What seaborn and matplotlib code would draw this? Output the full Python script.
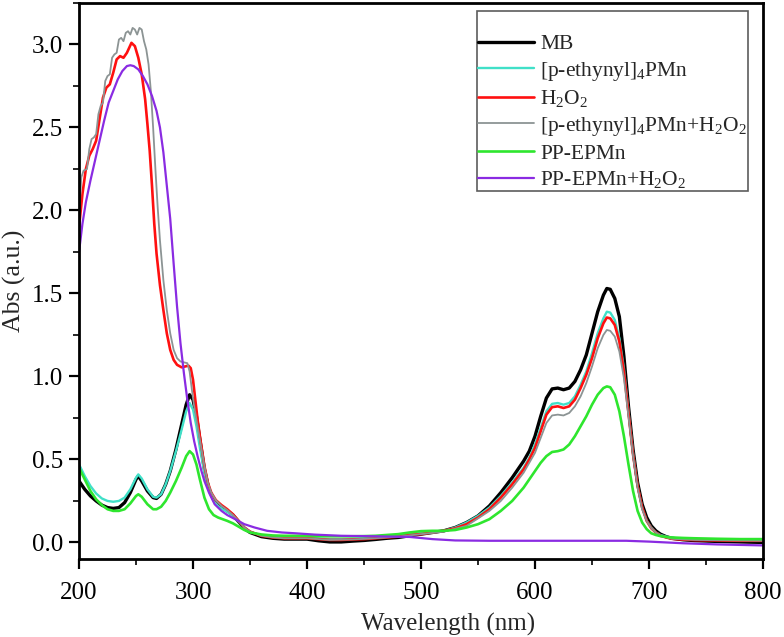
import matplotlib
matplotlib.use("Agg")
import matplotlib.pyplot as plt
import seaborn as sns
import pandas as pd
from matplotlib.ticker import MultipleLocator

# ---------------- data ----------------
labels = ["MB", r"[p-ethynyl]$_4$PMn", r"H$_2$O$_2$",
          r"[p-ethynyl]$_4$PMn+H$_2$O$_2$", "PP-EPMn", r"PP-EPMn+H$_2$O$_2$"]
colors = ["#000000", "#40E0C8", "#FF1010", "#8C9494", "#2EE62E", "#8A2BE2"]

common_wl = [200, 205, 210, 215, 220, 225, 230, 235, 240, 245, 250, 252, 255, 260, 265, 268,
             272, 276, 280, 285, 290, 294, 297, 300, 303, 306, 310, 314, 318, 322, 326, 330,
             335, 340, 345, 350, 360, 370, 380, 390, 400, 410, 420, 430, 440, 450, 460, 470,
             480, 490, 500, 510, 520, 530, 540, 550, 560, 570, 580, 590, 595, 600, 605, 610,
             615, 620, 625, 630, 635, 640, 645, 650, 655, 660, 663, 666, 670, 674, 678, 682,
             686, 690, 694, 698, 702, 706, 710, 715, 720, 730, 740, 760, 780, 800]

mb_abs = [0.37, 0.32, 0.28, 0.25, 0.225, 0.21, 0.205, 0.21, 0.24, 0.30, 0.38, 0.40, 0.37, 0.31,
          0.27, 0.265, 0.29, 0.35, 0.43, 0.56, 0.71, 0.83, 0.89, 0.86, 0.76, 0.62, 0.44, 0.32,
          0.26, 0.23, 0.21, 0.19, 0.165, 0.125, 0.085, 0.06, 0.035, 0.025, 0.02, 0.02, 0.02,
          0.01, 0.003, 0.003, 0.008, 0.012, 0.018, 0.025, 0.03, 0.04, 0.05, 0.06, 0.07, 0.09,
          0.12, 0.16, 0.22, 0.30, 0.39, 0.49, 0.55, 0.64, 0.76, 0.87, 0.925, 0.93, 0.92, 0.93,
          0.97, 1.04, 1.13, 1.26, 1.39, 1.49, 1.53, 1.525, 1.47, 1.36, 1.12, 0.82, 0.56, 0.36,
          0.23, 0.15, 0.10, 0.07, 0.05, 0.035, 0.025, 0.016, 0.011, 0.006, 0.003, 0.0]

pe_abs = [0.47, 0.40, 0.34, 0.295, 0.265, 0.25, 0.245, 0.25, 0.27, 0.32, 0.39, 0.41, 0.385,
          0.32, 0.275, 0.27, 0.29, 0.35, 0.43, 0.55, 0.68, 0.79, 0.84, 0.80, 0.70, 0.57, 0.42,
          0.31, 0.25, 0.22, 0.20, 0.185, 0.16, 0.125, 0.09, 0.065, 0.042, 0.035, 0.03, 0.03,
          0.03, 0.025, 0.02, 0.02, 0.022, 0.025, 0.03, 0.035, 0.04, 0.05, 0.055, 0.06, 0.07,
          0.09, 0.12, 0.16, 0.21, 0.28, 0.36, 0.45, 0.51, 0.59, 0.69, 0.79, 0.835, 0.84, 0.83,
          0.84, 0.88, 0.95, 1.03, 1.14, 1.26, 1.35, 1.39, 1.385, 1.34, 1.23, 1.05, 0.79, 0.54,
          0.34, 0.21, 0.13, 0.09, 0.06, 0.045, 0.035, 0.028, 0.022, 0.02, 0.018, 0.016, 0.015]

h2o2_wl = [200, 203, 206, 209, 212, 215, 218, 221, 224, 227, 230, 233, 236, 239, 242, 246, 249,
           252, 255, 258, 260, 262, 264, 266, 268, 271, 274, 277, 280, 283, 286, 290, 293, 296,
           298, 300, 302, 304, 306, 308, 310, 313, 316, 320, 325, 330, 335, 340, 345, 350, 360,
           370, 380, 390, 400, 410, 420, 430, 440, 450, 460, 470, 480, 490, 500, 510, 520, 530,
           540, 550, 560, 570, 580, 590, 595, 600, 605, 610, 615, 620, 625, 630, 635, 640, 645,
           650, 655, 660, 663, 666, 670, 674, 678, 682, 686, 690, 694, 698, 702, 706, 710, 715,
           720, 730, 740, 760, 780, 800]
h2o2_abs = [1.90, 2.10, 2.25, 2.33, 2.37, 2.42, 2.55, 2.68, 2.74, 2.76, 2.83, 2.91, 2.93, 2.92,
            2.95, 3.01, 2.99, 2.92, 2.82, 2.67, 2.52, 2.36, 2.15, 1.92, 1.74, 1.55, 1.40, 1.26,
            1.16, 1.10, 1.07, 1.055, 1.06, 1.065, 1.05, 0.98, 0.86, 0.74, 0.64, 0.55, 0.46, 0.36,
            0.30, 0.255, 0.225, 0.20, 0.17, 0.13, 0.09, 0.065, 0.04, 0.03, 0.025, 0.025, 0.025,
            0.02, 0.015, 0.015, 0.018, 0.02, 0.025, 0.03, 0.035, 0.045, 0.05, 0.06, 0.07, 0.085,
            0.11, 0.15, 0.20, 0.27, 0.35, 0.44, 0.50, 0.57, 0.67, 0.77, 0.815, 0.82, 0.81, 0.82,
            0.86, 0.93, 1.01, 1.11, 1.23, 1.32, 1.355, 1.35, 1.31, 1.21, 1.03, 0.78, 0.53, 0.34,
            0.21, 0.13, 0.085, 0.06, 0.04, 0.03, 0.022, 0.017, 0.014, 0.012, 0.01, 0.01]

peh_wl = [200, 202, 204, 207, 209, 211, 213, 215, 217, 219, 221, 223, 225, 227, 229, 231, 233,
          235, 237, 239, 241, 243, 245, 247, 249, 251, 253, 255, 257, 259, 261, 263, 265, 267,
          269, 271, 274, 277, 280, 283, 286, 289, 292, 295, 297, 299, 301, 304, 307, 310, 313,
          316, 320, 325, 330, 335, 340, 345, 350, 360, 370, 380, 400, 420, 440, 460, 480, 500,
          520, 540, 560, 570, 580, 590, 595, 600, 605, 610, 615, 620, 625, 630, 635, 640, 645,
          650, 655, 660, 663, 666, 670, 674, 678, 682, 686, 690, 694, 698, 702, 706, 710, 720,
          740, 800]
peh_abs = [1.95, 2.20, 2.24, 2.25, 2.37, 2.43, 2.44, 2.46, 2.58, 2.63, 2.65, 2.78, 2.81, 2.82,
           2.92, 2.94, 2.95, 3.03, 3.04, 3.02, 3.07, 3.08, 3.06, 3.10, 3.09, 3.06, 3.10, 3.09,
           3.02, 2.97, 2.88, 2.72, 2.50, 2.25, 2.02, 1.82, 1.58, 1.40, 1.26, 1.16, 1.11, 1.09,
           1.085, 1.08, 1.03, 0.92, 0.82, 0.70, 0.58, 0.46, 0.36, 0.30, 0.255, 0.22, 0.195,
           0.165, 0.13, 0.09, 0.065, 0.04, 0.03, 0.025, 0.025, 0.015, 0.018, 0.025, 0.035,
           0.05, 0.065, 0.10, 0.19, 0.25, 0.33, 0.42, 0.48, 0.54, 0.63, 0.72, 0.765, 0.77, 0.765,
           0.78, 0.82, 0.88, 0.96, 1.06, 1.17, 1.25, 1.28, 1.275, 1.24, 1.15, 0.99, 0.76, 0.52,
           0.33, 0.20, 0.13, 0.085, 0.06, 0.04, 0.022, 0.015, 0.01]

pp_abs = [0.45, 0.38, 0.31, 0.26, 0.225, 0.20, 0.19, 0.19, 0.20, 0.235, 0.28, 0.29, 0.275, 0.23,
          0.20, 0.20, 0.215, 0.25, 0.30, 0.37, 0.45, 0.52, 0.55, 0.53, 0.47, 0.38, 0.27, 0.20,
          0.165, 0.15, 0.14, 0.13, 0.115, 0.095, 0.075, 0.06, 0.048, 0.042, 0.04, 0.04, 0.04,
          0.038, 0.037, 0.037, 0.037, 0.038, 0.04, 0.045, 0.05, 0.06, 0.068, 0.07, 0.07, 0.075,
          0.09, 0.11, 0.14, 0.19, 0.25, 0.33, 0.38, 0.43, 0.48, 0.52, 0.545, 0.55, 0.56, 0.59,
          0.64, 0.70, 0.76, 0.83, 0.89, 0.93, 0.94, 0.935, 0.89, 0.79, 0.64, 0.47, 0.31, 0.19,
          0.12, 0.08, 0.055, 0.045, 0.038, 0.033, 0.03, 0.027, 0.025, 0.022, 0.02, 0.02]

pph_wl = [200, 203, 206, 210, 214, 218, 222, 226, 230, 234, 238, 242, 245, 248, 252, 256, 260,
          264, 268, 271, 274, 277, 280, 283, 286, 289, 292, 295, 298, 301, 304, 307, 310, 314,
          319, 325, 330, 337, 345, 354, 365, 378, 390, 407, 430, 460, 490, 510, 530, 560, 600,
          650, 680, 700, 730, 760, 800]
pph_abs = [1.75, 1.92, 2.05, 2.18, 2.30, 2.42, 2.54, 2.65, 2.72, 2.79, 2.84, 2.87, 2.875, 2.87,
           2.85, 2.81, 2.76, 2.69, 2.60, 2.50, 2.35, 2.15, 1.95, 1.68, 1.42, 1.20, 1.02, 0.86,
           0.72, 0.61, 0.52, 0.44, 0.37, 0.30, 0.23, 0.19, 0.165, 0.14, 0.11, 0.09, 0.07, 0.06,
           0.055, 0.047, 0.04, 0.037, 0.033, 0.02, 0.012, 0.01, 0.01, 0.01, 0.01, 0.005, -0.005,
           -0.012, -0.018]

x_ticks = [200, 300, 400, 500, 600, 700, 800]
y_ticks = [0.0, 0.5, 1.0, 1.5, 2.0, 2.5, 3.0]

series = [
    (common_wl, mb_abs),
    (common_wl, pe_abs),
    (h2o2_wl, h2o2_abs),
    (peh_wl, peh_abs),
    (common_wl, pp_abs),
    (pph_wl, pph_abs),
]
widths = [2.4, 1.7, 1.9, 1.3, 1.9, 1.6]

# ---------------- plot ----------------
sns.set_theme(style="white")
plt.rcParams["font.family"] = ["Liberation Serif", "DejaVu Serif"]
plt.rcParams["mathtext.fontset"] = "custom"
plt.rcParams["mathtext.rm"] = "Liberation Serif"
plt.rcParams["mathtext.it"] = "Liberation Serif:italic"
plt.rcParams["mathtext.default"] = "regular"

fig = plt.figure(figsize=(7.84, 6.37), dpi=100)
ax = fig.add_axes([0.1008, 0.1224, 0.8724, 0.8729])

for (wl, ab), lab, col, lw in zip(series, labels, colors, widths):
    df = pd.DataFrame({"Wavelength": wl, "Abs": ab})
    sns.lineplot(data=df, x="Wavelength", y="Abs", ax=ax, color=col, lw=lw,
                 label=lab, sort=False, estimator=None)

ax.set_xlim(200, 800)
ax.set_ylim(-0.1, 3.25)
ax.set_xticks(x_ticks)
ax.set_yticks(y_ticks)
ax.set_yticklabels([f"{v:.1f}" for v in y_ticks])
ax.xaxis.set_minor_locator(MultipleLocator(50))
ax.yaxis.set_minor_locator(MultipleLocator(0.25))
ax.tick_params(axis="both", which="major", direction="out", length=7.5, width=1.6,
               labelsize=18, colors="black", bottom=True, left=True, top=False, right=False,
               pad=4)
ax.tick_params(axis="x", which="major", pad=9)
ax.tick_params(axis="both", which="minor", direction="out", length=4.5, width=1.4,
               bottom=True, left=True, top=False, right=False)
for s in ax.spines.values():
    s.set_visible(True)
    s.set_linewidth(2.0)
    s.set_color("black")

ax.set_xlabel("Wavelength (nm)", fontsize=18)
ax.xaxis.set_label_coords((448 - 79) / 684, -0.097)
ax.set_ylabel("Abs (a.u.)", fontsize=18.5, labelpad=4)

leg = ax.legend(loc="upper right", bbox_to_anchor=(0.978, 0.986), borderaxespad=0,
                fontsize=15.5, title=" ", title_fontsize=14, frameon=True, fancybox=False,
                edgecolor="#333333", handlelength=2.6, handletextpad=0.3,
                labelspacing=0.26, borderpad=0.03)
leg.get_frame().set_linewidth(1.2)

fig.savefig("out.png", dpi=100, facecolor="white")
